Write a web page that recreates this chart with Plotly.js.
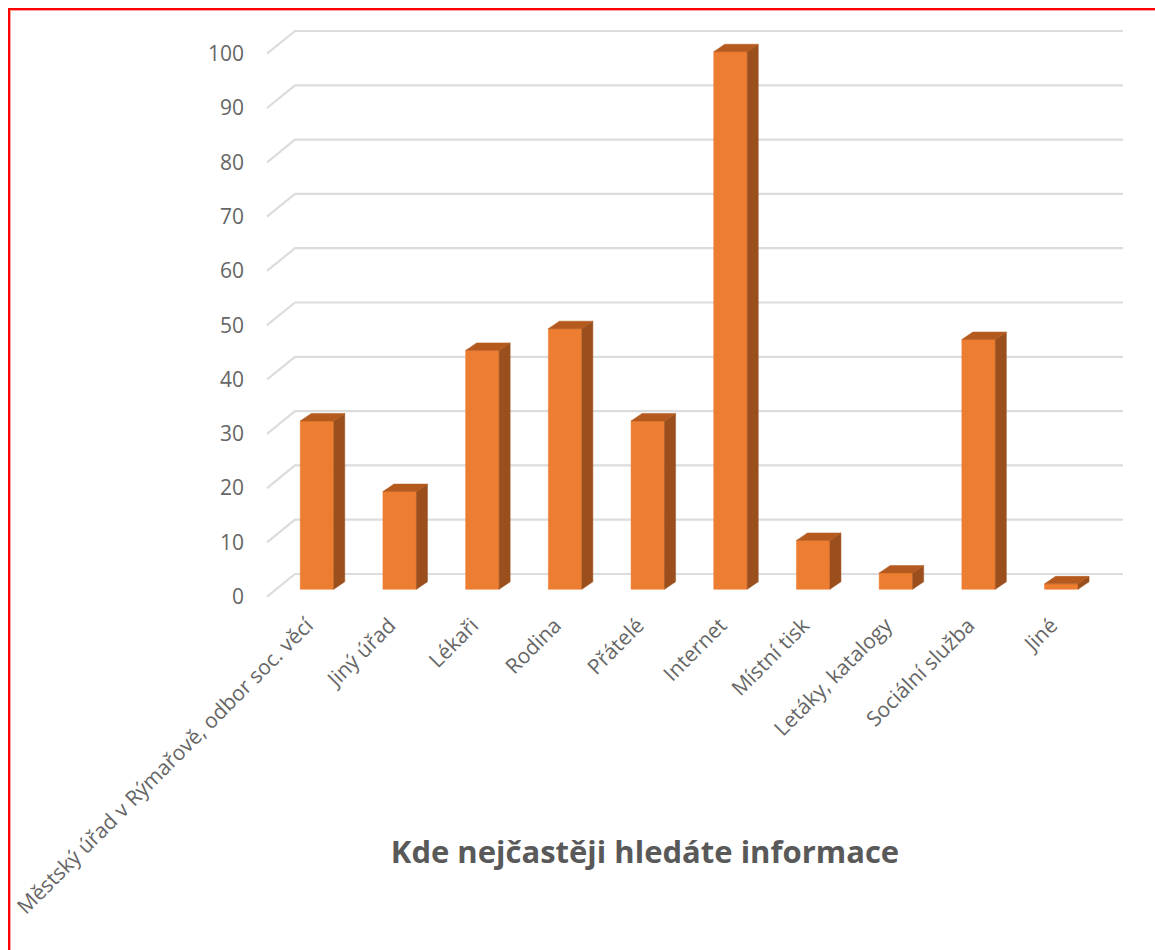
<!DOCTYPE html>
<html>
<head>
<meta charset="utf-8">
<script src="https://cdn.plot.ly/plotly-3.0.1.min.js"></script>
<style>
html,body{margin:0;padding:0;background:#fff;overflow:hidden;width:1155px;height:950px}
#chart{position:absolute;left:0;top:0;width:1155px;height:950px}
#frame{position:absolute;left:7.5px;top:8px;width:2000px;height:2000px;border:2px solid #f00;box-shadow:inset 1px 1px 0 #f9a0a0;pointer-events:none}
</style>
</head>
<body>
<div id="chart"></div>
<div id="frame"></div>
<script>
const categories = ["Městský úřad v Rýmařově, odbor soc. věcí","Jiný úřad","Lékaři","Rodina","Přátelé","Internet","Místní tisk","Letáky, katalogy","Sociální služba","Jiné"];
const values = [31,18,44,48,31,99,9,3,46,1];
const gridValues = [0,10,20,30,40,50,60,70,80,90,100];

// pixel geometry expressed as scale factors
const pxPerCat = 82.7, pxPerVal = 5.43, x0px = 317, y0px = 589.3;
const L = 248, R = 1130, T = 20, B = 600;
const xRange = [(L-x0px)/pxPerCat, (R-x0px)/pxPerCat];
const yRange = [(y0px-B)/pxPerVal, (y0px-T)/pxPerVal];

const barW = 33.5/pxPerCat, depX = 11/pxPerCat, depY = 7.5/pxPerVal;
const wallLeft = (295-x0px)/pxPerCat, wallRight = (1123-x0px)/pxPerCat, frontLeft = (267-x0px)/pxPerCat;
const wallUp = (y0px-574)/pxPerVal, frontDown = (596.7-y0px)/pxPerVal;

const idx = categories.map((_,i)=>i);

// grid
const gx=[], gy=[];
gridValues.forEach(v=>{
  gx.push(frontLeft,wallLeft,wallRight,null);
  gy.push(v-frontDown,v+wallUp,v+wallUp,null);
});
// side & top faces
const sx=[], sy=[], tx=[], ty=[];
values.forEach((v,i)=>{
  const r=i+barW/2, l=i-barW/2;
  sx.push(r,r,r+depX,r+depX,r,null);
  sy.push(0,v,v+depY,depY,0,null);
  tx.push(l,r,r+depX,l+depX,l,null);
  ty.push(v,v,v+depY,v+depY,v,null);
});

const data = [
  {type:'scatter',mode:'lines',x:gx,y:gy,line:{color:'#dcdcdc',width:2.2},hoverinfo:'skip',showlegend:false,connectgaps:false,xaxis:'x',yaxis:'y'},
  {type:'bar',x:idx,y:values,width:barW,marker:{color:'#ED7D31',line:{color:'#ED7D31',width:0.5}},showlegend:false,xaxis:'x2',yaxis:'y2'},
  {type:'scatter',mode:'lines',x:sx,y:sy,fill:'toself',fillcolor:'#9A4F1C',line:{color:'#9A4F1C',width:0.5},hoverinfo:'skip',showlegend:false,xaxis:'x2',yaxis:'y2'},
  {type:'scatter',mode:'lines',x:tx,y:ty,fill:'toself',fillcolor:'#B55A1E',line:{color:'#B55A1E',width:0.5},hoverinfo:'skip',showlegend:false,xaxis:'x2',yaxis:'y2'}
];

const tickFont = {family:'"Open Sans", sans-serif',size:21,color:'#666666'};
const layout = {
  width:1155,height:950,
  margin:{l:L,r:1155-R,t:T,b:950-B,pad:0},
  paper_bgcolor:'#fff',plot_bgcolor:'rgba(0,0,0,0)',
  showlegend:false,
  title:{text:'Kde nejčastěji hledáte informace',x:645/1155,xanchor:'center',y:1-852/950,yanchor:'middle',yref:'container',xref:'container',
         font:{family:'"Open Sans", sans-serif',size:31,color:'#595959',weight:700}},
  xaxis:{range:xRange,fixedrange:true,showgrid:false,zeroline:false,showline:false,
         tickmode:'array',tickvals:idx,ticktext:categories,tickangle:-45,tickfont:tickFont,ticks:'',automargin:false,ticklabelstandoff:8,ticklabelshift:-10},
  yaxis:{range:yRange,fixedrange:true,showgrid:false,zeroline:false,showline:false,
         tickmode:'array',tickvals:gridValues.map(v=>v-frontDown),ticktext:gridValues.map(String),tickfont:tickFont,ticks:'',automargin:false,ticklabelstandoff:3},
  xaxis2:{range:xRange,overlaying:'x',visible:false,fixedrange:true},
  yaxis2:{range:yRange,overlaying:'y',visible:false,fixedrange:true},
  bargap:0
};
Plotly.newPlot('chart',data,layout,{displayModeBar:false,staticPlot:true});
</script>
</body>
</html>
